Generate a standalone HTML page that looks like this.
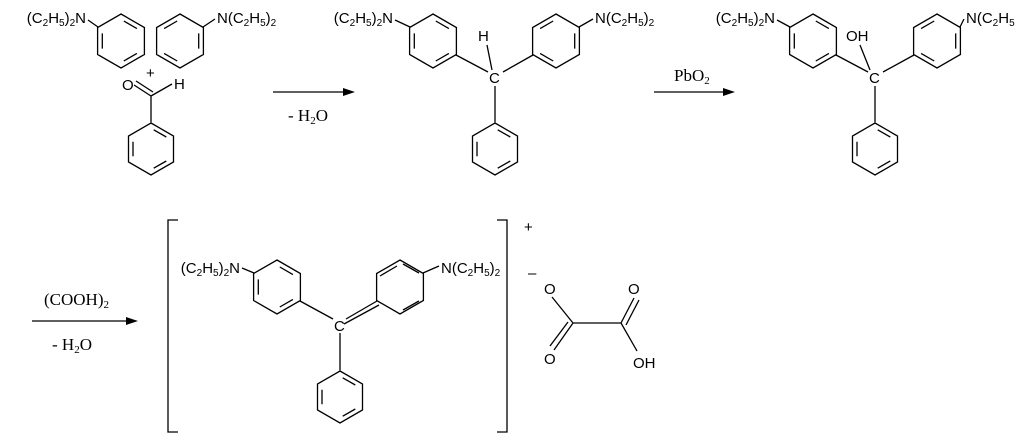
<!DOCTYPE html>
<html><head><meta charset="utf-8"><style>
body{margin:0;background:#fff;width:1024px;height:436px;overflow:hidden}
svg text{font-family:"Liberation Sans",sans-serif;font-size:15px;fill:#000}
.s{font-family:"Liberation Serif",serif;font-size:17px}
</style></head><body>
<svg id="g" width="1024" height="436" viewBox="0 0 1024 436" stroke="#000" stroke-width="1.3" fill="none">
<g stroke="none">
<text x="86" y="23" text-anchor="end">(C<tspan font-size="10" dy="3">2</tspan><tspan dy="-3">H</tspan><tspan font-size="10" dy="3">5</tspan><tspan dy="-3">)</tspan><tspan font-size="10" dy="3">2</tspan><tspan dy="-3">N</tspan></text>
<text x="217" y="23">N(C<tspan font-size="10" dy="3">2</tspan><tspan dy="-3">H</tspan><tspan font-size="10" dy="3">5</tspan><tspan dy="-3">)</tspan><tspan font-size="10" dy="3">2</tspan></text>
<text x="146" y="78">+</text>
<text x="122" y="90">O</text><text x="174" y="89">H</text>
<text class="s" x="288" y="121">- H<tspan font-size="11" dy="3">2</tspan><tspan dy="-3">O</tspan></text>

<text x="393" y="23" text-anchor="end">(C<tspan font-size="10" dy="3">2</tspan><tspan dy="-3">H</tspan><tspan font-size="10" dy="3">5</tspan><tspan dy="-3">)</tspan><tspan font-size="10" dy="3">2</tspan><tspan dy="-3">N</tspan></text>
<text x="595" y="23">N(C<tspan font-size="10" dy="3">2</tspan><tspan dy="-3">H</tspan><tspan font-size="10" dy="3">5</tspan><tspan dy="-3">)</tspan><tspan font-size="10" dy="3">2</tspan></text>
<text x="478" y="41">H</text><text x="489" y="83" font-size="14">C</text>
<text class="s" x="674" y="81">PbO<tspan font-size="11" dy="3">2</tspan></text>

<text x="775" y="23" text-anchor="end">(C<tspan font-size="10" dy="3">2</tspan><tspan dy="-3">H</tspan><tspan font-size="10" dy="3">5</tspan><tspan dy="-3">)</tspan><tspan font-size="10" dy="3">2</tspan><tspan dy="-3">N</tspan></text>
<text x="966" y="23">N(C<tspan font-size="10" dy="3">2</tspan><tspan dy="-3">H</tspan><tspan font-size="10" dy="3">5</tspan></text>
<text x="846" y="41">OH</text><text x="869" y="83" font-size="14">C</text>

<text class="s" x="44" y="305">(COOH)<tspan font-size="11" dy="3">2</tspan></text>
<text class="s" x="52" y="350">- H<tspan font-size="11" dy="3">2</tspan><tspan dy="-3">O</tspan></text>
<text x="240" y="273" text-anchor="end">(C<tspan font-size="10" dy="3">2</tspan><tspan dy="-3">H</tspan><tspan font-size="10" dy="3">5</tspan><tspan dy="-3">)</tspan><tspan font-size="10" dy="3">2</tspan><tspan dy="-3">N</tspan></text>
<text x="441" y="273">N(C<tspan font-size="10" dy="3">2</tspan><tspan dy="-3">H</tspan><tspan font-size="10" dy="3">5</tspan><tspan dy="-3">)</tspan><tspan font-size="10" dy="3">2</tspan></text>
<text x="334" y="331" font-size="14">C</text>
<text x="524" y="232" font-size="14">+</text><text x="528" y="278">–</text>
<text x="544" y="294">O</text><text x="628" y="294">O</text><text x="544" y="364">O</text><text x="633" y="368">OH</text>
</g>
<g fill="#000" stroke="none">
<polygon points="355,92 343,88 343,96"/><polygon points="735,92 723,88 723,96"/><polygon points="138,321 126,317 126,325"/>
</g>
<path d="M273 92H345M654 92H725M32 321H128"/>
<path d="M178 220H168V432H178M497 220H507V432H497"/>
<path id="b" d=""/>
</svg>
<script>
var P=[];
function ring(cx,cy,r,dbl){var v=[];for(var k=0;k<6;k++){var a=(-90+60*k)*Math.PI/180;v.push([cx+r*Math.cos(a),cy+r*Math.sin(a)]);}
var d="M"+v.map(function(p){return p[0].toFixed(1)+" "+p[1].toFixed(1)}).join("L")+"Z";
dbl.forEach(function(e){var a=v[e],b=v[(e+1)%6];var f=0.8,t=0.15;
function q(p){return [cx+(p[0]-cx)*f,cy+(p[1]-cy)*f]}var A=q(a),B=q(b);
var x1=A[0]+(B[0]-A[0])*t,y1=A[1]+(B[1]-A[1])*t,x2=B[0]-(B[0]-A[0])*t,y2=B[1]-(B[1]-A[1])*t;
d+="M"+x1.toFixed(1)+" "+y1.toFixed(1)+"L"+x2.toFixed(1)+" "+y2.toFixed(1);});P.push(d);}
function L(a,b,c,e){P.push("M"+a+" "+b+"L"+c+" "+e);}
ring(121,41,27,[0,2,4]);ring(180,41,27,[1,3,5]);ring(151,149,26,[0,2,4]);
L(88,20,98,27);L(203,27,215,19);L(151,96,151,123);L(134,85,151,96);L(136,81,153,92);L(151,96,172,84);
ring(433,41,27,[0,2,4]);ring(556,41,27,[1,3,5]);ring(495,149,26,[0,2,4]);
L(395,20,410,27);L(579,27,593,19);L(456,55,488,72);L(503,72,533,55);L(495,86,495,123);L(487,45,492,70);
ring(813,41,27,[0,2,4]);ring(937,41,27,[1,3,5]);ring(875,149,26,[0,2,4]);
L(777,20,790,27);L(960,27,964,19);L(836,55,868,72);L(883,72,914,55);L(875,86,875,123);L(860,45,870,70);
ring(277,287,27,[0,2,4]);ring(400,287,27,[]);ring(340,397,26,[0,2,4]);
L(242,268,254,273);L(423,273,439,266);L(300,301,333,319);L(340,333,340,371);L(346,319,377,301);L(344,324,379,305);
P.push("M380 276L397 266M403 264L419 273M403 310L419 301");
L(552,297,573,323);L(573,323,621,323);L(573,323,554,350);L(568,322,550,346);L(621,323,634,298);L(626,325,639,300);L(621,323,637,351);
document.getElementById("b").setAttribute("d",P.join(""));
</script>
</body></html>
